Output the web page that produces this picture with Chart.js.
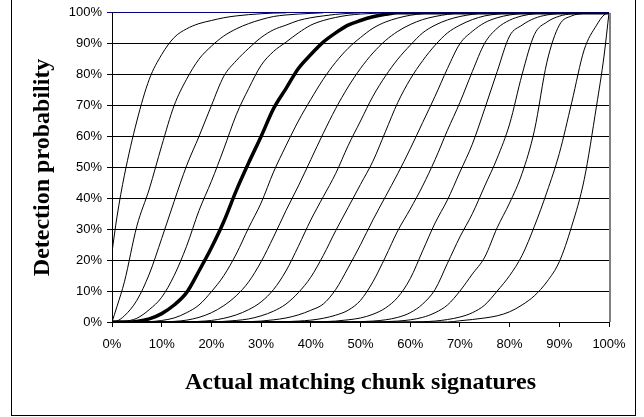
<!DOCTYPE html>
<html>
<head>
<meta charset="utf-8">
<script src="https://cdn.jsdelivr.net/npm/chart.js@4/dist/chart.umd.min.js"></script>
<style>
  html, body { margin: 0; padding: 0; background: #fff; }
  #wrap { position: relative; width: 644px; height: 417px; overflow: hidden; }
  #frame { position: absolute; left: 11px; top: -3px; width: 625px; height: 419px;
           box-sizing: border-box; border: 1px solid #000; pointer-events: none; }
</style>
</head>
<body>
<div id="wrap">
  <canvas id="chart" width="644" height="417"></canvas>
  <div id="frame"></div>
</div>
<script>
// matching fraction (%) at which every curve is sampled
const xs = [0, 1, 2.5, 5, 7.5, 10, 12.5, 15, 17.5, 20, 22.5, 25, 27.5, 30, 32.5, 35, 37.5, 40, 42.5, 45,
            47.5, 50, 52.5, 55, 57.5, 60, 62.5, 65, 67.5, 70, 72.5, 75, 77.5, 80, 82.5, 85, 87.5, 90, 92.5,
            95, 97.5, 99, 100];

// detection probability (%) per threshold curve
const k1 = [22.6, 34, 47.5, 65, 78.5, 86.5, 92, 94.8, 96.5, 97.5, 98.4, 99, 99.4, 99.7, 99.9, 100];
const k2 = [0, 5, 13, 31, 43, 57, 70, 78.5, 85, 89.2, 92.5, 94.8, 96.5, 97.8, 98.8, 99.3, 99.6, 99.8, 100];
const k3 = [0, 0.3, 2, 7, 15.5, 27, 39, 50.5, 60, 70, 79.5, 84.5, 88.5, 92, 94.5, 96, 97.5, 98.4, 99, 99.5, 99.8, 100];
const k4 = [0, 0, 0.2, 1.2, 4, 8, 15, 24.5, 36, 45.5, 56, 67, 75.5, 83, 87.5, 90.5, 93.5, 96, 97.5, 98.5, 99.2, 99.6, 99.8, 100];
const k5 = [0, 0, 0, 0.2, 1, 2.7, 5.5, 9.5, 16.5, 24, 32.5, 42.5, 51.5, 60, 69, 75.5, 82, 86.5, 90.5, 93.5,
            96, 97.5, 98.7, 99.5, 100, 100, 100, 100, 100, 100, 100, 100, 100, 100, 100, 100, 100, 100, 100,
            100, 100, 100, 100];
const k6 = [0, 0, 0, 0, 0.1, 0.5, 1.3, 3, 5.5, 9.8, 15, 22, 30.5, 38.5, 48.5, 57, 65, 72, 78.5, 84, 88.5, 92,
            95, 97, 98.3, 99.2, 99.7, 100];
const k7 = [0, 0, 0, 0, 0, 0, 0.2, 0.6, 1.5, 3, 5.3, 8.5, 13, 19.5, 27.5, 36, 44, 52.5, 61, 69, 76, 82, 87,
            91, 94, 96.2, 97.8, 98.8, 99.5, 100];
const k8 = [0, 0, 0, 0, 0, 0, 0, 0, 0.2, 0.5, 1.2, 2.3, 4, 6.5, 10.5, 16.5, 24.5, 33, 40.5, 48, 57, 65, 73,
            79.5, 85, 89.5, 93.5, 96, 97.7, 98.8, 99.5, 100];
const k9 = [0, 0, 0, 0, 0, 0, 0, 0, 0, 0, 0.2, 0.5, 1, 2, 3.5, 5.8, 9.5, 14.5, 21.5, 29.5, 37, 44.5, 52, 61.5,
            71, 78.5, 84.5, 89.5, 93.5, 96, 97.8, 99, 99.6, 100];
const k10 = [0, 0, 0, 0, 0, 0, 0, 0, 0, 0, 0, 0, 0.1, 0.3, 0.7, 1.3, 2.3, 3.8, 5.8, 10.5, 17.5, 25, 33, 40.5,
             48, 56, 64.5, 73, 82, 90, 94, 96.8, 98.4, 99.3, 99.8, 100];
const k11 = [0, 0, 0, 0, 0, 0, 0, 0, 0, 0, 0, 0, 0, 0, 0, 0.1, 0.3, 0.6, 1.2, 2.2, 3.8, 7, 13, 21, 29.5, 36.5,
             44, 52.5, 62, 71, 81, 90.2, 95, 97.6, 99, 99.7, 100];
const k12 = [0, 0, 0, 0, 0, 0, 0, 0, 0, 0, 0, 0, 0, 0, 0, 0, 0, 0, 0.1, 0.3, 0.7, 1.3, 2.5, 4.5, 8, 14, 23,
             32, 39.5, 48.5, 57.5, 69, 81, 92.5, 96, 98.2, 99.3, 99.8, 100];
const k13 = [0, 0, 0, 0, 0, 0, 0, 0, 0, 0, 0, 0, 0, 0, 0, 0, 0, 0, 0, 0, 0, 0.1, 0.3, 0.7, 1.5, 3, 5.8, 10.5,
             19, 27.5, 35, 44, 53, 64, 80, 93, 97, 98.9, 99.7, 100];
const k14 = [0, 0, 0, 0, 0, 0, 0, 0, 0, 0, 0, 0, 0, 0, 0, 0, 0, 0, 0, 0, 0, 0, 0, 0.1, 0.3, 0.7, 1.5, 3, 5.5,
             10, 15.5, 21, 30.5, 38.5, 48, 62, 84, 96, 99, 99.8, 100];
const k15 = [0, 0, 0, 0, 0, 0, 0, 0, 0, 0, 0, 0, 0, 0, 0, 0, 0, 0, 0, 0, 0, 0, 0, 0, 0, 0, 0.1, 0.3, 0.8,
             1.6, 3, 5.5, 10, 15, 21.5, 31, 42, 54.5, 71, 88, 96, 99.3, 100];
const k16 = [0, 0, 0, 0, 0, 0, 0, 0, 0, 0, 0, 0, 0, 0, 0, 0, 0, 0, 0, 0, 0, 0, 0, 0, 0, 0, 0, 0, 0, 0.4, 0.8,
             1.3, 2, 3.3, 5.5, 8.5, 13, 19.5, 31, 46, 70, 86, 100];

const curves = [k1, k2, k3, k4, k5, k6, k7, k8, k9, k10, k11, k12, k13, k14, k15, k16];
const boldCurve = 4; // k5 is the highlighted one

const yTicks = [0, 10, 20, 30, 40, 50, 60, 70, 80, 90, 100];

const toPoints = vals => vals.map((v, i) => ({ x: xs[i], y: v }));

const datasets = curves.map((vals, i) => ({
    label: 'k' + (i + 1),
    data: toPoints(vals),
    borderColor: '#000',
    borderWidth: i === boldCurve ? 3.5 : 1,
    pointRadius: 0,
    cubicInterpolationMode: 'monotone',
    order: i === boldCurve ? -1 : 0,
    fill: false,
}));

// grey right edge of the plot area, like the spreadsheet frame
const plotEdge = {
    id: 'plotEdge',
    beforeDatasetsDraw(chart) {
        const { ctx, chartArea } = chart;
        ctx.save();
        ctx.strokeStyle = '#808080';
        ctx.lineWidth = 2;
        ctx.beginPath();
        ctx.moveTo(chartArea.right + 1, chartArea.top);
        ctx.lineTo(chartArea.right + 1, chartArea.bottom);
        ctx.stroke();
        ctx.restore();
    }
};

const tickFont = { family: 'Liberation Sans, Arial, sans-serif', size: 13 };
const titleFont = { family: 'Liberation Serif, Times New Roman, serif', size: 24, weight: 'bold' };

new Chart(document.getElementById('chart'), {
    type: 'line',
    data: { datasets },
    plugins: [plotEdge],
    options: {
        responsive: false,
        animation: false,
        devicePixelRatio: 1,
        layout: { padding: { left: 0, right: 35, top: 12, bottom: 0 } },
        plugins: { legend: { display: false }, tooltip: { enabled: false } },
        scales: {
            x: {
                type: 'linear',
                min: 0,
                max: 100,
                afterFit: scale => { scale.height = 95; },
                ticks: {
                    stepSize: 10,
                    autoSkip: false,
                    maxRotation: 0,
                    padding: 10,
                    color: '#000',
                    font: tickFont,
                    callback: v => v + '%',
                },
                grid: { drawOnChartArea: false, drawTicks: true, tickLength: 5, color: '#000' },
                border: { display: true, color: '#000', width: 1 },
                title: {
                    display: true,
                    text: 'Actual matching chunk signatures',
                    color: '#000',
                    font: titleFont,
                    padding: { top: 0, bottom: 20 },
                },
            },
            y: {
                type: 'linear',
                min: 0,
                max: 100,
                afterFit: scale => { scale.width = 112; },
                afterBuildTicks: scale => { scale.ticks = yTicks.map(v => ({ value: v })); },
                ticks: {
                    padding: 5,
                    color: '#000',
                    font: tickFont,
                    callback: v => v + '%',
                },
                grid: {
                    drawTicks: true,
                    tickLength: 5,
                    color: ctx => (ctx.tick && ctx.tick.value === 100 ? '#000080' : '#000'),
                },
                border: { display: true, color: '#000', width: 1 },
                title: {
                    display: true,
                    text: 'Detection probability',
                    color: '#000',
                    font: titleFont,
                    padding: { top: 28, bottom: 0 },
                },
            },
        },
    },
});
</script>
</body>
</html>
